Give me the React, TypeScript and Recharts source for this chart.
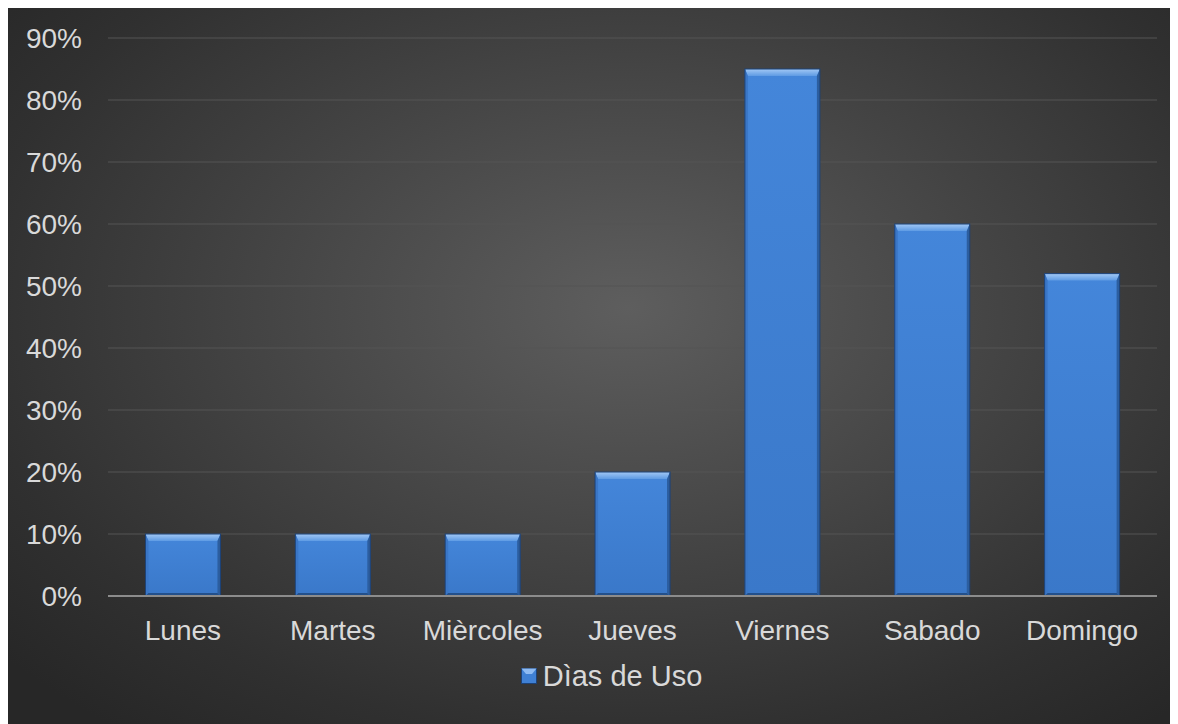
import React from 'react';
import { BarChart, Bar, XAxis, YAxis, CartesianGrid, Legend } from 'recharts';

const categories = ['Lunes', 'Martes', 'Mièrcoles', 'Jueves', 'Viernes', 'Sabado', 'Domingo'];
const usage = [10, 10, 10, 20, 85, 60, 52];
const yTicks = [0, 10, 20, 30, 40, 50, 60, 70, 80, 90];
const seriesName = 'Dìas de Uso';

const data = categories.map((c, i) => ({ day: c, value: usage[i] }));

const FONT = '"Liberation Sans", Arial, sans-serif';

const BevelBar = (props: any) => {
  const { x, y, width: w, height: h } = props;
  if (!h || h <= 0) return null;
  const bt = Math.min(7, h / 2);
  const bs = Math.min(3, w / 2);
  const bb = Math.min(3, h / 2);
  return (
    <g>
      <rect x={x} y={y} width={w} height={h} fill="url(#barFill)" />
      <polygon points={`${x},${y} ${x + w},${y} ${x + w - bs},${y + bt} ${x + bs},${y + bt}`} fill="url(#barTop)" />
      <polygon points={`${x},${y} ${x + bs},${y + bt} ${x + bs},${y + h - bb} ${x},${y + h}`} fill="#3a76c6" />
      <polygon points={`${x + w},${y} ${x + w - bs},${y + bt} ${x + w - bs},${y + h - bb} ${x + w},${y + h}`} fill="#2c5e9f" />
      <polygon points={`${x},${y + h} ${x + bs},${y + h - bb} ${x + w - bs},${y + h - bb} ${x + w},${y + h}`} fill="#23508b" />
      <rect x={x} y={y} width={w} height={h} fill="none" stroke="#1d4277" strokeWidth={1} />
    </g>
  );
};

const LegendContent = () => (
  <div style={{ display: 'flex', justifyContent: 'center', alignItems: 'center', height: 30, fontFamily: FONT, fontSize: 29, color: '#d9d9d9' }}>
    <svg width={16} height={16} style={{ marginRight: 6 }}>
      <rect x={0.5} y={0.5} width={15} height={15} fill="#3f80d4" stroke="#1d4277" />
      <polygon points="0.5,0.5 15.5,0.5 11,6 5,6" fill="#8dbaf2" />
    </svg>
    <span>{seriesName}</span>
  </div>
);

export default function App() {
  return (
    <div
      style={{
        marginLeft: -1,
        marginTop: -1,
        width: 1171,
        height: 717,
        background: 'radial-gradient(ellipse 70% 75% at 53% 42%, #5e5e5e 0%, #4a4a4a 35%, #303030 80%, #272727 100%)',
      }}
    >
      <BarChart
        width={1171}
        height={717}
        data={data}
        margin={{ top: 31, right: 21, left: 0, bottom: 38 }}
        barCategoryGap="25%"
        style={{ fontFamily: FONT }}
      >
        <defs>
          <linearGradient id="barFill" x1="0" y1="0" x2="0" y2="1">
            <stop offset="0%" stopColor="#4486da" />
            <stop offset="100%" stopColor="#3a78c9" />
          </linearGradient>
          <linearGradient id="barTop" x1="0" y1="0" x2="0" y2="1">
            <stop offset="0%" stopColor="#a2c8f5" />
            <stop offset="100%" stopColor="#5e9be4" />
          </linearGradient>
        </defs>
        <CartesianGrid vertical={false} stroke="#555555" strokeWidth={1} />
        <XAxis
          dataKey="day"
          height={60}
          tickLine={false}
          tickSize={0}
          tickMargin={24}
          axisLine={{ stroke: '#8c8c8c', strokeWidth: 2 }}
          tick={{ fill: '#d9d9d9', fontSize: 28 }}
          interval={0}
        />
        <YAxis
          width={101}
          domain={[0, 90]}
          ticks={yTicks}
          tickFormatter={(v: number) => `${v}%`}
          axisLine={false}
          tickLine={false}
          tickSize={0}
          tickMargin={26}
          tick={{ fill: '#d9d9d9', fontSize: 28 }}
        />
        <Legend verticalAlign="bottom" content={<LegendContent />} wrapperStyle={{ top: 654, left: 19, width: 1171 }} />
        <Bar dataKey="value" name={seriesName} shape={<BevelBar />} isAnimationActive={false} />
      </BarChart>
    </div>
  );
}
